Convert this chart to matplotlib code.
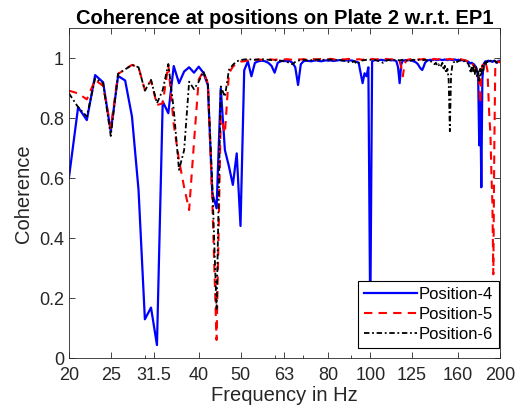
import matplotlib
matplotlib.use('Agg')
import matplotlib.pyplot as plt
import numpy as np

plt.rcParams['font.family'] = ['Liberation Sans', 'DejaVu Sans']

# frequency bins, 1 Hz apart
freq = np.arange(20, 201)

pos4 = [0.603, 0.837, 0.794, 0.944, 0.920, 0.756, 0.941, 0.926, 0.806, 0.561,
        0.130, 0.169, 0.044, 0.856, 0.817, 0.974, 0.917, 0.956, 0.970, 0.952,
        0.972, 0.952, 0.910, 0.550, 0.500, 0.900, 0.694, 0.640, 0.578, 0.683,
        0.441, 0.960, 0.990, 0.940, 0.985, 0.990, 0.992, 0.990, 0.985, 0.975,
        0.952, 0.985, 0.990, 0.992, 0.990, 0.991, 0.985, 0.970, 0.911, 0.980,
        0.990, 0.992, 0.991, 0.990, 0.992, 0.993, 0.991, 0.990, 0.992, 0.993,
        0.992, 0.993, 0.991, 0.992, 0.993, 0.994, 0.993, 0.992, 0.993, 0.994,
        0.993, 0.992, 0.990, 0.988, 0.985, 0.950, 0.917, 0.950, 0.940, 0.970,
        0.120, 0.990, 0.993, 0.994, 0.993, 0.994, 0.995, 0.994, 0.993, 0.994,
        0.995, 0.994, 0.993, 0.994, 0.993, 0.990, 0.970, 0.917, 0.980, 0.992,
        0.993, 0.994, 0.993, 0.994, 0.993, 0.992, 0.990, 0.988, 0.985, 0.980,
        0.972, 0.965, 0.961, 0.972, 0.985, 0.990, 0.993, 0.994, 0.995, 0.994,
        0.995, 0.996, 0.995, 0.994, 0.995, 0.996, 0.995, 0.994, 0.995, 0.996,
        0.995, 0.994, 0.995, 0.996, 0.995, 0.994, 0.995, 0.996, 0.995, 0.994,
        0.995, 0.994, 0.993, 0.994, 0.993, 0.992, 0.993, 0.991, 0.990, 0.988,
        0.985, 0.983, 0.985, 0.982, 0.980, 0.975, 0.970, 0.960, 0.930, 0.710,
        0.880, 0.570, 0.930, 0.975, 0.985, 0.990, 0.988, 0.990, 0.992, 0.990,
        0.991, 0.990, 0.988, 0.990, 0.992, 0.990, 0.988, 0.985, 0.990, 0.992,
        0.990]

pos5 = [0.892, 0.883, 0.863, 0.928, 0.908, 0.767, 0.948, 0.963, 0.978, 0.970,
        0.894, 0.926, 0.844, 0.850, 0.978, 0.780, 0.660, 0.570, 0.494, 0.720,
        0.930, 0.956, 0.917, 0.528, 0.061, 0.806, 0.750, 0.950, 0.972, 0.983,
        0.989, 0.990, 0.993, 0.994, 0.995, 0.996, 0.995, 0.996, 0.997, 0.996,
        0.995, 0.996, 0.997, 0.996, 0.997, 0.996, 0.995, 0.996, 0.997, 0.996,
        0.997, 0.996, 0.997, 0.998, 0.997, 0.996, 0.997, 0.998, 0.997, 0.996,
        0.997, 0.998, 0.997, 0.996, 0.997, 0.998, 0.997, 0.996, 0.997, 0.998,
        0.997, 0.996, 0.995, 0.996, 0.997, 0.996, 0.995, 0.996, 0.997, 0.996,
        0.997, 0.998, 0.997, 0.996, 0.997, 0.998, 0.997, 0.996, 0.997, 0.998,
        0.997, 0.996, 0.997, 0.996, 0.995, 0.994, 0.993, 0.990, 0.970, 0.940,
        0.975, 0.992, 0.995, 0.996, 0.997, 0.996, 0.997, 0.998, 0.997, 0.996,
        0.997, 0.996, 0.997, 0.998, 0.997, 0.996, 0.997, 0.998, 0.997, 0.996,
        0.997, 0.998, 0.997, 0.996, 0.997, 0.998, 0.997, 0.996, 0.997, 0.998,
        0.997, 0.996, 0.997, 0.998, 0.997, 0.996, 0.997, 0.998, 0.997, 0.996,
        0.997, 0.996, 0.997, 0.996, 0.995, 0.994, 0.993, 0.992, 0.990, 0.985,
        0.980, 0.982, 0.978, 0.980, 0.975, 0.970, 0.965, 0.960, 0.950, 0.920,
        0.850, 0.950, 0.975, 0.985, 0.990, 0.985, 0.975, 0.960, 0.880, 0.800,
        0.750, 0.620, 0.520, 0.280, 0.700, 0.970, 0.980, 0.985, 0.990, 0.988,
        0.985]

pos6 = [0.883, 0.837, 0.806, 0.933, 0.917, 0.741, 0.948, 0.963, 0.978, 0.970,
        0.892, 0.928, 0.850, 0.894, 0.981, 0.830, 0.628, 0.694, 0.922, 0.897,
        0.922, 0.956, 0.917, 0.583, 0.160, 0.906, 0.872, 0.961, 0.978, 0.990,
        0.994, 0.996, 0.997, 0.996, 0.995, 0.996, 0.997, 0.996, 0.995, 0.994,
        0.993, 0.994, 0.992, 0.990, 0.988, 0.985, 0.980, 0.988, 0.992, 0.994,
        0.995, 0.994, 0.990, 0.994, 0.995, 0.996, 0.995, 0.994, 0.995, 0.996,
        0.995, 0.996, 0.995, 0.994, 0.995, 0.994, 0.993, 0.992, 0.990, 0.988,
        0.985, 0.988, 0.990, 0.980, 0.985, 0.990, 0.993, 0.994, 0.995, 0.996,
        0.995, 0.994, 0.995, 0.994, 0.992, 0.990, 0.988, 0.985, 0.990, 0.992,
        0.994, 0.995, 0.994, 0.993, 0.994, 0.995, 0.994, 0.993, 0.994, 0.995,
        0.994, 0.993, 0.992, 0.990, 0.992, 0.994, 0.995, 0.994, 0.993, 0.994,
        0.995, 0.994, 0.993, 0.994, 0.995, 0.994, 0.993, 0.992, 0.990, 0.988,
        0.985, 0.980, 0.985, 0.975, 0.980, 0.970, 0.975, 0.985, 0.960, 0.975,
        0.950, 0.965, 0.930, 0.757, 0.945, 0.975, 0.985, 0.990, 0.985, 0.988,
        0.990, 0.992, 0.994, 0.995, 0.993, 0.990, 0.992, 0.988, 0.985, 0.980,
        0.970, 0.950, 0.975, 0.955, 0.980, 0.945, 0.970, 0.935, 0.960, 0.925,
        0.965, 0.940, 0.975, 0.960, 0.985, 0.975, 0.988, 0.990, 0.985, 0.990,
        0.992, 0.990, 0.988, 0.990, 0.992, 0.990, 0.985, 0.988, 0.990, 0.992,
        0.990]

tick_freqs = [20, 25, 31.5, 40, 50, 63, 80, 100, 125, 160, 200]
tick_labels = ['20', '25', '31.5', '40', '50', '63', '80', '100', '125', '160', '200']
ytick_vals = [0, 0.2, 0.4, 0.6, 0.8, 1]
ytick_labels = ['0', '0.2', '0.4', '0.6', '0.8', '1']

fig = plt.figure(figsize=(5.21, 4.19), dpi=100)
ax = fig.add_axes([0.1324, 0.1449, 0.8273, 0.7876])

ax.plot(freq, pos4, color='b', lw=1.6, label='Position-4')
ax.plot(freq, pos5, color='r', lw=1.5, ls=(0, (4, 3)), label='Position-5')
ax.plot(freq, pos6, color='k', lw=1.3, ls=(0, (3, 1.5, 1, 1.5)), label='Position-6')

ax.set_xscale('log')
ax.set_xlim(20, 200)
ax.set_ylim(0, 1.1)
ax.set_xticks(tick_freqs)
ax.set_xticklabels(tick_labels)
ax.set_xticks([30, 60, 70, 90], minor=True)
ax.set_xticklabels([], minor=True)
ax.set_yticks(ytick_vals)
ax.set_yticklabels(ytick_labels)

dark = (0.15, 0.15, 0.15)
ax.tick_params(which='both', direction='in', top=True, right=True,
               labelsize=13, colors=dark, width=0.6)
ax.tick_params(which='major', length=4)
ax.tick_params(which='minor', length=2.5)
ax.tick_params(axis='x', which='major', pad=6)
for s in ax.spines.values():
    s.set_color(dark)
    s.set_linewidth(0.6)

ax.set_xlabel('Frequency in Hz', fontsize=14.5, color=dark, labelpad=2)
ax.set_ylabel('Coherence', fontsize=14.5, color=dark, labelpad=4)
ax.set_title('Coherence at positions on Plate 2 w.r.t. EP1', fontsize=14.5,
             fontweight='bold', pad=3)

leg = ax.legend(loc='lower right', bbox_to_anchor=(0.998, 0.032),
                borderaxespad=0, fontsize=12, handlelength=3.2,
                handletextpad=0.1, labelspacing=0.3, borderpad=0.35,
                fancybox=False, framealpha=1)
leg.get_frame().set_edgecolor('k')
leg.get_frame().set_linewidth(0.8)

fig.savefig('out.png', dpi=100)
